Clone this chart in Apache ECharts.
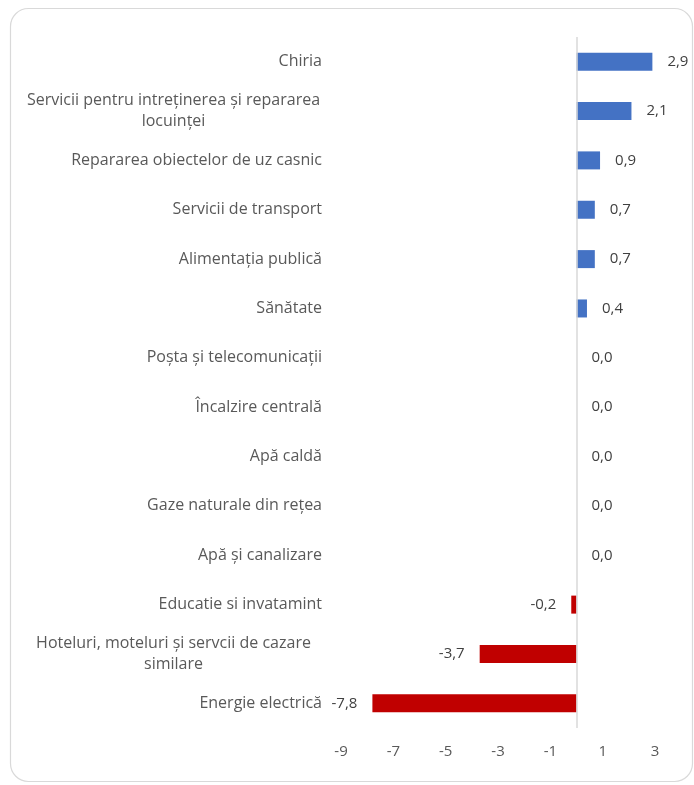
<!DOCTYPE html>
<html>
<head>
<meta charset="utf-8">
<script src="https://cdn.jsdelivr.net/npm/echarts@6/dist/echarts.min.js"></script>
<style>
  html, body { margin: 0; padding: 0; background: #fff; }
  #chart { width: 694px; height: 785px; }
</style>
</head>
<body>
<div id="chart"></div>
<script>
// categorii (de sus in jos)
var categorii = [
    'Chiria',
    'Servicii pentru intreținerea și repararea\nlocuinței',
    'Repararea obiectelor de uz casnic',
    'Servicii de transport',
    'Alimentația publică',
    'Sănătate',
    'Poșta și telecomunicații',
    'Încalzire centrală',
    'Apă caldă',
    'Gaze naturale din rețea',
    'Apă și canalizare',
    'Educatie si invatamint',
    'Hoteluri, moteluri și servcii de cazare\nsimilare',
    'Energie electrică'
];
var valori = [2.9, 2.1, 0.9, 0.7, 0.7, 0.4, 0.0, 0.0, 0.0, 0.0, 0.0, -0.2, -3.7, -7.8];
var axaMin = -9, axaMax = 3, pas = 2;

var chart = echarts.init(document.getElementById('chart'));

// date pentru bare (culoare + pozitia etichetei dupa semn)
var dateBare = [];
for (var i = 0; i < valori.length; i++) {
    var neg = valori[i] < 0;
    dateBare.push({
        value: valori[i],
        itemStyle: { color: neg ? '#C00000' : '#4472C4' },
        label: { position: neg ? 'left' : 'right' }
    });
}

var option = {
    animation: false,
    textStyle: { fontFamily: '"Open Sans", sans-serif' },
    graphic: [{
        type: 'rect',
        shape: { x: 10.5, y: 8.5, width: 682, height: 773, r: 18 },
        style: { fill: 'none', stroke: '#d9d9d9', lineWidth: 1.2 },
        silent: true
    }],
    grid: { left: 341, right: 39, top: 37, bottom: 57, containLabel: false },
    xAxis: {
        type: 'value',
        min: axaMin,
        max: axaMax,
        interval: pas,
        axisLine: { show: false },
        axisTick: { show: false },
        splitLine: { show: false },
        axisLabel: { color: '#595959', fontSize: 15, margin: 16 }
    },
    yAxis: {
        type: 'category',
        inverse: true,
        data: categorii,
        axisLine: { show: false, onZero: false },
        axisTick: { show: false },
        axisLabel: {
            color: '#595959',
            fontSize: 16,
            margin: 19,
            lineHeight: 21,
            formatter: function (v) {
                if (v.indexOf('\n') < 0) return v;
                return v.split('\n').map(function (l) { return '{m|' + l + '}'; }).join('\n');
            },
            rich: {
                m: { width: 297, align: 'center', color: '#595959', fontSize: 16, lineHeight: 21 }
            }
        }
    },
    series: [{
        type: 'bar',
        data: dateBare,
        barWidth: 18,
        label: {
            show: true,
            distance: 15,
            color: '#404040',
            fontSize: 15,
            formatter: function (p) { return p.value.toFixed(1).replace('.', ','); }
        },
        markLine: {
            silent: true,
            symbol: 'none',
            label: { show: false },
            lineStyle: { color: '#d9d9d9', width: 1.5, type: 'solid' },
            data: [{ xAxis: 0 }]
        }
    }]
};

chart.setOption(option);
</script>
</body>
</html>
